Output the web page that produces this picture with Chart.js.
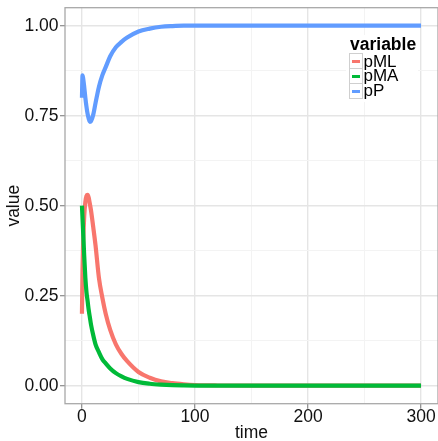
<!DOCTYPE html>
<html>
<head>
<meta charset="utf-8">
<script src="https://cdn.jsdelivr.net/npm/chart.js@4/dist/chart.umd.min.js"></script>
<style>
  html, body { margin: 0; padding: 0; background: #fff; }
  #wrap { position: relative; width: 438px; height: 441px; overflow: hidden; }
  #legend { position: absolute; left: 346px; top: 35px; width: 72px; height: 67px; background: #fff; }
  .lg { position: absolute; font-family: "Liberation Sans", Arial, sans-serif; color: #000; white-space: nowrap; line-height: 1; }
  .key { position: absolute; box-sizing: border-box; border: 1px solid #cfcfcf; background: #fff; }
  .key span { position: absolute; left: 2px; right: 2px; height: 3px; }
</style>
</head>
<body>
<div id="wrap">
  <canvas id="chart" width="438" height="441"></canvas>
  <div id="legend"></div>
</div>
<script>
// values
var time = [0, 0.5, 1, 2, 3, 4, 5, 6, 7, 8, 10, 12, 15, 18, 21, 25, 30, 35, 40, 50, 60, 70, 80, 90, 100, 120, 150, 200, 250, 300];
var pML = [0.20, 0.32, 0.39, 0.47, 0.51, 0.527, 0.53, 0.522, 0.505, 0.487, 0.44, 0.39, 0.30, 0.245, 0.20, 0.155, 0.115, 0.088, 0.068, 0.038, 0.022, 0.012, 0.007, 0.004, 0.002, 0.0006, 0, 0, 0, 0];
var pMA = [0.50, 0.465, 0.43, 0.36, 0.30, 0.26, 0.235, 0.21, 0.19, 0.17, 0.14, 0.115, 0.093, 0.074, 0.062, 0.048, 0.035, 0.026, 0.019, 0.010, 0.0055, 0.003, 0.0015, 0.0008, 0.0004, 0.0001, 0, 0, 0, 0];
var pP = [0.80, 0.862, 0.855, 0.83, 0.80, 0.775, 0.755, 0.742, 0.733, 0.735, 0.753, 0.785, 0.83, 0.862, 0.885, 0.915, 0.94, 0.955, 0.967, 0.984, 0.992, 0.997, 0.999, 1.0, 1.0, 1.0, 1.0, 1.0, 1.0, 1.0];

var seriesNames = ['pML', 'pMA', 'pP'];
var seriesColors = ['#F8766D', '#00BA38', '#619CFF'];
var xTickLabels = ['0', '100', '200', '300'];
var yTickLabels = ['0.00', '0.25', '0.50', '0.75', '1.00'];
var xTitle = 'time';
var yTitle = 'value';
var legendTitle = 'variable';

var FONT = '"Liberation Sans", Arial, sans-serif';
var seriesData = [pML, pMA, pP];

// major breaks plus the minor ones halfway between
function breaks(labels) {
    var major = labels.map(function (s) { return parseFloat(s); });
    var all = [];
    major.forEach(function (v, i) {
        all.push(v);
        if (i < major.length - 1) all.push((v + major[i + 1]) / 2);
    });
    return { major: major, all: all };
}
var xBreaks = breaks(xTickLabels);
var yBreaks = breaks(yTickLabels);

function labelFor(br, labels) {
    return function (value) {
        var i = br.major.indexOf(value);
        return i >= 0 ? labels[i] : '';
    };
}

function gridOpts(br) {
    return {
        color: function (c) { return br.major.indexOf(c.tick.value) >= 0 ? '#e5e5e5' : '#f3f3f3'; },
        lineWidth: function (c) { return br.major.indexOf(c.tick.value) >= 0 ? 1.4 : 1; },
        tickColor: function (c) { return br.major.indexOf(c.tick.value) >= 0 ? '#8a8a8a' : 'rgba(0,0,0,0)'; },
        tickLength: 5,
        tickWidth: 1.2
    };
}

var panelBorder = {
    id: 'panelBorder',
    afterDatasetsDraw: function (chart) {
        var a = chart.chartArea, ctx = chart.ctx;
        ctx.save();
        ctx.strokeStyle = '#a8a8a8';
        ctx.lineWidth = 1.3;
        ctx.strokeRect(a.left, a.top, a.right - a.left, a.bottom - a.top);
        ctx.restore();
    }
};

var datasets = seriesNames.map(function (name, k) {
    return {
        label: name,
        data: time.map(function (t, i) { return { x: t, y: seriesData[k][i] }; }),
        borderColor: seriesColors[k],
        backgroundColor: seriesColors[k],
        borderWidth: 4.2,
        borderJoinStyle: 'round',
        pointRadius: 0,
        fill: false,
        cubicInterpolationMode: 'monotone',
        order: seriesNames.length - k
    };
});

new Chart(document.getElementById('chart'), {
    type: 'line',
    data: { datasets: datasets },
    options: {
        responsive: false,
        animation: false,
        devicePixelRatio: 1,
        layout: { padding: { top: 7.7, right: 0, bottom: 0, left: 0 } },
        plugins: { legend: { display: false }, tooltip: { enabled: false } },
        scales: {
            x: {
                type: 'linear',
                min: -15,
                max: 315,
                afterBuildTicks: function (s) { s.ticks = xBreaks.all.map(function (v) { return { value: v }; }); },
                afterFit: function (s) { s.height = 37.3; s.paddingLeft = 0; s.paddingRight = 0; },
                grid: gridOpts(xBreaks),
                border: { display: false },
                ticks: {
                    autoSkip: false,
                    maxRotation: 0,
                    padding: 0,
                    color: '#111',
                    font: { family: FONT, size: 17.5, lineHeight: 1 },
                    callback: labelFor(xBreaks, xTickLabels)
                },
                title: {
                    display: true,
                    text: xTitle,
                    color: '#111',
                    padding: 0,
                    font: { family: FONT, size: 17.5, lineHeight: 0.9 }
                }
            },
            y: {
                type: 'linear',
                min: -0.05,
                max: 1.05,
                afterBuildTicks: function (s) { s.ticks = yBreaks.all.map(function (v) { return { value: v }; }); },
                afterFit: function (s) { s.width = 65; s.paddingTop = 0; s.paddingBottom = 0; },
                grid: gridOpts(yBreaks),
                border: { display: false },
                ticks: {
                    autoSkip: false,
                    padding: 1.5,
                    color: '#111',
                    font: { family: FONT, size: 17.5, lineHeight: 1 },
                    callback: labelFor(yBreaks, yTickLabels)
                },
                title: {
                    display: true,
                    text: yTitle,
                    color: '#111',
                    padding: { top: 6, bottom: 0 },
                    font: { family: FONT, size: 17.5, lineHeight: 0.9 }
                }
            }
        }
    },
    plugins: [panelBorder]
});

// legend drawn as html, positions relative to the #legend box
var legend = document.getElementById('legend');
var t = document.createElement('div');
t.className = 'lg';
t.textContent = legendTitle;
t.style.cssText = 'left:4px;top:1px;font-size:17.5px;font-weight:bold;';
legend.appendChild(t);
seriesNames.forEach(function (name, i) {
    var key = document.createElement('div');
    key.className = 'key';
    key.style.cssText = 'left:2.5px;top:' + (17.7 + i * 15.3) + 'px;width:14.5px;height:' + (i < seriesNames.length - 1 ? 16.3 : 15.3) + 'px;';
    var line = document.createElement('span');
    line.style.background = seriesColors[i];
    line.style.top = '6.2px';
    key.appendChild(line);
    legend.appendChild(key);

    var lab = document.createElement('div');
    lab.className = 'lg';
    lab.textContent = name;
    lab.style.cssText = 'left:17.5px;top:' + (17.9 + i * 14.4) + 'px;font-size:17px;';
    legend.appendChild(lab);
});
</script>
</body>
</html>
